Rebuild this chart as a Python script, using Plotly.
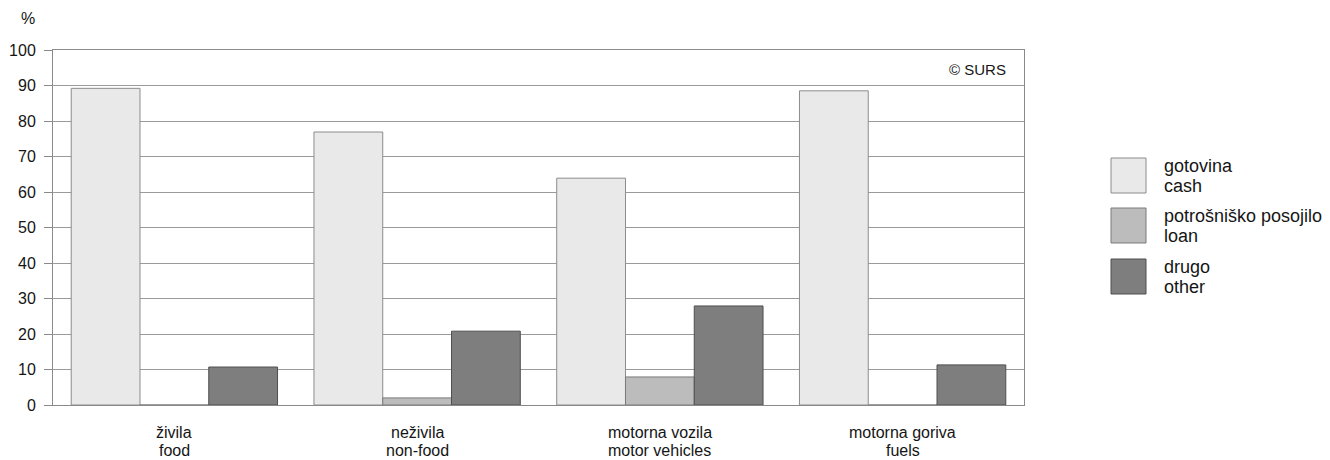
import plotly.graph_objects as go

cat_line1 = ["živila", "neživila", "motorna vozila", "motorna goriva"]
cat_line2 = ["food", "non-food", "motor vehicles", "fuels"]
series_line1 = ["gotovina", "potrošniško posojilo", "drugo"]
series_line2 = ["cash", "loan", "other"]
cash = [89.2, 76.9, 63.9, 88.5]
loan = [0.0, 2.0, 7.9, 0.0]
other = [10.7, 20.8, 27.9, 11.3]
y_ticks = [0, 10, 20, 30, 40, 50, 60, 70, 80, 90, 100]

categories = [a + " / " + b for a, b in zip(cat_line1, cat_line2)]
fills = ["#e9e9e9", "#bcbcbc", "#7e7e7e"]
lines = ["#8c8c8c", "#7a7a7a", "#4f4f4f"]

fig = go.Figure()
for n1, n2, vals, fc, lc in zip(series_line1, series_line2, [cash, loan, other], fills, lines):
    fig.add_trace(go.Bar(x=categories, y=vals, name=n1 + " / " + n2,
                         marker=dict(color=fc, line=dict(color=lc, width=1)),
                         showlegend=False))

FONT = "Liberation Sans, Arial, sans-serif"
TXT = "#151515"
fig.update_layout(
    width=1330, height=460,
    margin=dict(l=53, r=306, t=50, b=55),
    paper_bgcolor="white", plot_bgcolor="white",
    barmode="group", bargap=0.15, bargroupgap=0,
    font=dict(family=FONT, size=16, color=TXT),
)
fig.update_yaxes(range=[0, 100], tickvals=y_ticks, showgrid=True, gridcolor="#9a9a9a", gridwidth=1,
                 ticks="outside", ticklen=8, tickcolor="#8a8a8a", showline=True, linecolor="#8a8a8a",
                 mirror=True, zeroline=False, tickfont=dict(size=16), ticklabelstandoff=5,
                 automargin=False)
fig.update_xaxes(showline=True, linecolor="#8a8a8a", mirror=True, ticks="", showgrid=False,
                 showticklabels=False, automargin=False)

# category labels (two lines each)
for c, l1, l2 in zip(categories, cat_line1, cat_line2):
    fig.add_annotation(text=l1, x=c, xref="x", yref="paper", y=0, yshift=-27,
                       showarrow=False, yanchor="middle", font=dict(size=16))
    fig.add_annotation(text=l2, x=c, xref="x", yref="paper", y=0, yshift=-45,
                       showarrow=False, yanchor="middle", font=dict(size=16))

# % label and copyright
fig.add_annotation(text="%", xref="paper", yref="paper", x=(37 - 53) / 971, y=1.0, yshift=32,
                   showarrow=False, xanchor="right", yanchor="middle", font=dict(size=16))
fig.add_annotation(text="© SURS", xref="paper", yref="paper", x=0.984, y=1.0, yshift=-19,
                   showarrow=False, xanchor="right", yanchor="middle", font=dict(size=15))

# custom legend
sw_top = [158, 208, 259]
for i, (n1, n2, fc, lc) in enumerate(zip(series_line1, series_line2, fills, lines)):
    y0 = 1 - (sw_top[i] - 50) / 355
    y1 = 1 - (sw_top[i] + 35 - 50) / 355
    fig.add_shape(type="rect", xref="paper", yref="paper",
                  x0=(1111 - 53) / 971, x1=(1146 - 53) / 971, y0=y1, y1=y0,
                  fillcolor=fc, line=dict(color=lc, width=1))
    ym = (y0 + y1) / 2
    fig.add_annotation(text=n1, xref="paper", yref="paper", x=(1162 - 53) / 971,
                       y=ym, yshift=10, showarrow=False, xanchor="left", yanchor="middle",
                       font=dict(size=18))
    fig.add_annotation(text=n2, xref="paper", yref="paper", x=(1162 - 53) / 971,
                       y=ym, yshift=-10, showarrow=False, xanchor="left", yanchor="middle",
                       font=dict(size=18))

fig.write_html("out.html", config={"displayModeBar": False},
               post_script="document.body.style.margin='0';document.body.style.overflow='hidden';")
